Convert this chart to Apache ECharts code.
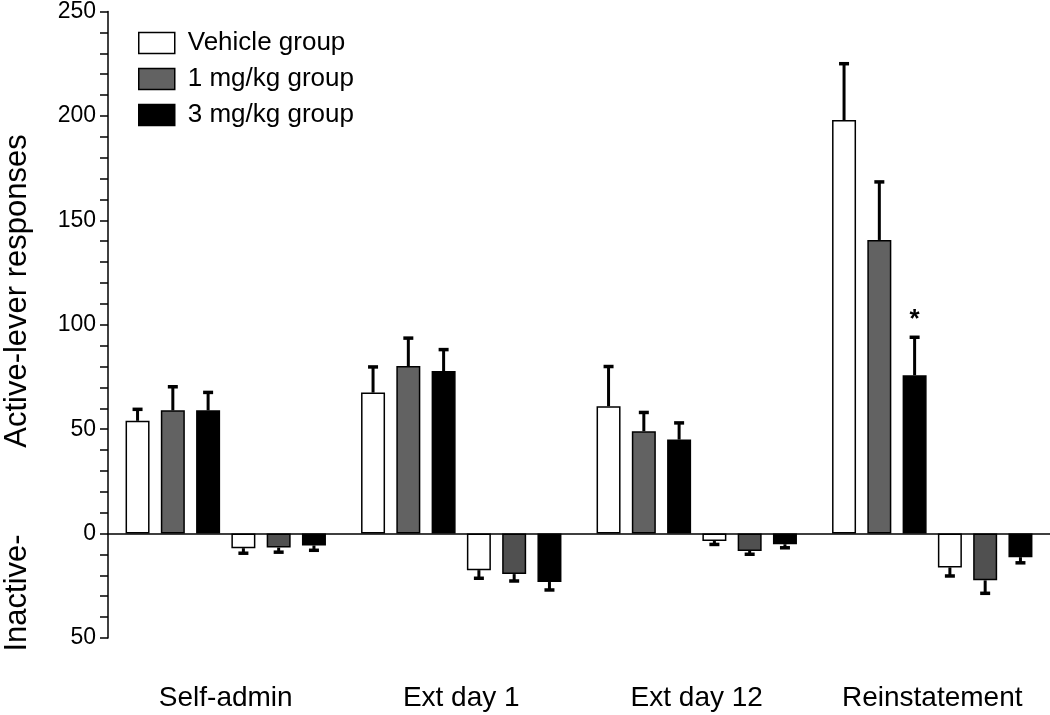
<!DOCTYPE html>
<html>
<head>
<meta charset="utf-8">
<script src="https://cdn.jsdelivr.net/npm/echarts@6/dist/echarts.min.js"></script>
<style>
  html, body { margin: 0; padding: 0; background: #fff; }
  #chart { width: 1050px; height: 715px; }
</style>
</head>
<body>
<div id="chart"></div>
<script>
// categories and group names
const categories = ['Self-admin', 'Ext day 1', 'Ext day 12', 'Reinstatement']
const groups = ['Vehicle group', '1 mg/kg group', '3 mg/kg group']

// active-lever means (positive) and SEM
const vehicleActive = [54, 67.5, 61, 198]
const vehicleActiveSem = [5.5, 12.3, 19, 27]
const mg1Active = [59, 80.2, 49, 140.6]
const mg1ActiveSem = [11.3, 13.4, 9, 27.8]
const mg3Active = [59, 77.8, 45, 75.8]
const mg3ActiveSem = [8.6, 10.3, 8, 18.2]

// inactive-lever means (drawn downward) and SEM
const vehicleInactive = [-7, -17.5, -3.5, -16.2]
const vehicleInactiveSem = [2.4, 3.9, 1.7, 4.1]
const mg1Inactive = [-6.7, -19.4, -8.3, -22.4]
const mg1InactiveSem = [2.2, 3.3, 1.6, 6.2]
const mg3Inactive = [-5.7, -23.2, -5.1, -11.3]
const mg3InactiveSem = [2.3, 3.8, 1.7, 2.7]

// significance marks (3 mg/kg active)
const mg3ActiveSig = [false, false, false, true]

const FONT = '"Liberation Sans", Arial, Helvetica, sans-serif'
const barWidth = 24
const barGap = 0.47
const pitch = barWidth * (1 + barGap)

const barSeries = [
  { name: groups[0], data: vehicleActive, sem: vehicleActiveSem, color: '#ffffff' },
  { name: groups[1], data: mg1Active, sem: mg1ActiveSem, color: '#626262' },
  { name: groups[2], data: mg3Active, sem: mg3ActiveSem, color: '#000000', sig: mg3ActiveSig },
  { name: groups[0], data: vehicleInactive, sem: vehicleInactiveSem, color: '#ffffff' },
  { name: groups[1], data: mg1Inactive, sem: mg1InactiveSem, color: '#505050' },
  { name: groups[2], data: mg3Inactive, sem: mg3InactiveSem, color: '#000000' }
]

// error bar data: [category, slot, mean, end, sig]
const errData = []
barSeries.forEach((s, si) => {
  s.data.forEach((v, ci) => {
    const end = v >= 0 ? v + s.sem[ci] : v - s.sem[ci]
    errData.push([ci, si, v, end, s.sig && s.sig[ci] ? 1 : 0])
  })
})

const chart = echarts.init(document.getElementById('chart'), null, { renderer: 'canvas' })

const series = barSeries.map(s => ({
  name: s.name,
  type: 'bar',
  xAxisIndex: 0,
  data: s.data,
  barWidth: barWidth,
  barGap: (barGap * 100) + '%',
  itemStyle: { color: s.color, borderColor: '#000', borderWidth: 1.5 },
  emphasis: { disabled: true },
  animation: false
}))

series.push({
  type: 'custom',
  xAxisIndex: 0,
  data: errData,
  z: 5,
  animation: false,
  silent: true,
  renderItem: function (params, api) {
    const ci = api.value(0)
    const si = api.value(1)
    const p = api.coord([ci, api.value(2)])
    const q = api.coord([ci, api.value(3)])
    const x = p[0] + (si - 2.5) * pitch
    const children = [
      { type: 'line', shape: { x1: x, y1: p[1], x2: x, y2: q[1] }, style: { stroke: '#000', lineWidth: 3 } },
      { type: 'line', shape: { x1: x - 5, y1: q[1], x2: x + 5, y2: q[1] }, style: { stroke: '#000', lineWidth: 3.5 } }
    ]
    if (api.value(4)) {
      children.push({
        type: 'text',
        style: { text: '*', x: x, y: q[1] - 4, align: 'center', verticalAlign: 'bottom', font: 'bold 26px ' + FONT, fill: '#000' }
      })
    }
    return { type: 'group', children: children }
  }
})

chart.setOption({
  backgroundColor: '#fff',
  textStyle: { fontFamily: FONT },
  grid: { left: 108, right: 0, top: 10, bottom: 77 },
  legend: {
    data: groups,
    orient: 'vertical',
    left: 133,
    top: 25,
    icon: 'rect',
    itemWidth: 36,
    itemHeight: 21,
    itemGap: 10,
    selectedMode: false,
    itemStyle: { borderColor: '#000', borderWidth: 1.5 },
    textStyle: { fontSize: 26, color: '#000', fontFamily: FONT, padding: [0, 0, 0, 8] }
  },
  xAxis: [
    {
      type: 'category',
      data: categories,
      axisLine: { onZero: true, lineStyle: { color: '#000', width: 1.5 } },
      axisTick: { show: false },
      axisLabel: { show: false }
    },
    {
      type: 'category',
      data: categories,
      position: 'bottom',
      axisLine: { show: false, onZero: false },
      axisTick: { show: false },
      axisLabel: { fontSize: 28, color: '#000', fontFamily: FONT, margin: 46 }
    }
  ],
  yAxis: {
    type: 'value',
    min: -50,
    max: 250,
    interval: 50,
    splitLine: { show: false },
    axisLine: { show: true, lineStyle: { color: '#000', width: 1.5 } },
    axisTick: { show: true, length: 8, lineStyle: { color: '#000', width: 1.5 } },
    minorTick: { show: true, splitNumber: 5, length: 8, lineStyle: { color: '#000', width: 1.5 } },
    axisLabel: {
      fontSize: 23,
      color: '#000',
      fontFamily: FONT,
      margin: 12,
      formatter: v => String(Math.abs(v))
    }
  },
  graphic: [
    {
      type: 'text',
      x: 17,
      y: 291,
      rotation: Math.PI / 2,
      style: { text: 'Active-lever responses', font: '31px ' + FONT, fill: '#000', align: 'center', verticalAlign: 'middle' }
    },
    {
      type: 'text',
      x: 17,
      y: 593,
      rotation: Math.PI / 2,
      style: { text: 'Inactive-', font: '31px ' + FONT, fill: '#000', align: 'center', verticalAlign: 'middle' }
    }
  ],
  series: series
})
</script>
</body>
</html>
